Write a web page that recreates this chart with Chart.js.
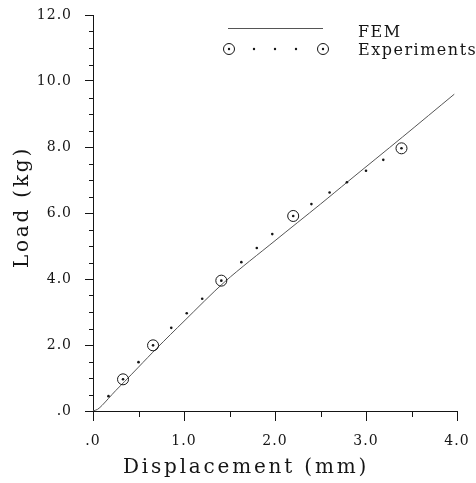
<!DOCTYPE html>
<html>
<head>
<meta charset="utf-8">
<script src="https://cdn.jsdelivr.net/npm/chart.js@4.4.1/dist/chart.umd.min.js"></script>
<style>
html,body{margin:0;padding:0;background:#fff;}
#wrap{width:476px;height:483px;}
</style>
</head>
<body>
<div id="wrap"><canvas id="grafico" width="476" height="483"></canvas></div>
<script>
// ---- DATOS ----
const femX = [0, 0.05, 0.10, 0.17, 0.25, 0.35, 0.50, 0.70, 1.00, 1.45, 2.00, 2.50, 2.80, 3.40, 3.97];
const femY = [0, 0.05, 0.17, 0.38, 0.62, 0.90, 1.33, 1.90, 2.72, 3.92, 5.16, 6.27, 6.95, 8.30, 9.60];

const expX = [0.17, 0.33, 0.50, 0.66, 0.86, 1.03, 1.20, 1.41, 1.63, 1.80, 1.97, 2.20, 2.40, 2.60, 2.79, 3.00, 3.19, 3.39];
const expY = [0.45, 0.96, 1.48, 1.99, 2.52, 2.96, 3.40, 3.95, 4.51, 4.94, 5.36, 5.91, 6.27, 6.62, 6.93, 7.28, 7.61, 7.96];

// puntos marcados con circulo
const circX = [0.33, 0.66, 1.41, 2.20, 3.39];
const circY = [0.96, 1.99, 3.95, 5.91, 7.96];

const xMajor = [0, 1, 2, 3, 4];
const xTickLabels = ['.0', '1.0', '2.0', '3.0', '4.0'];
const yMajor = [0, 2, 4, 6, 8, 10, 12];
const yTickLabels = ['.0', '2.0', '4.0', '6.0', '8.0', '10.0', '12.0'];

const FONT = 'DejaVu Serif';
const INK = '#151515';

function pts(xs, ys){ return xs.map((x,i) => ({ x, y: ys[i] })); }

// ---- plugin: ticks menores, leyenda y titulos de ejes ----
const extras = {
  id: 'extras',
  beforeLayout(chart){ chart.ctx.letterSpacing = '1px'; },
  beforeDraw(chart){ chart.ctx.letterSpacing = '1px'; },
  afterDraw(chart){
    const ctx = chart.ctx;
    const xs = chart.scales.x, ys = chart.scales.y;
    const area = chart.chartArea;
    ctx.save();
    ctx.strokeStyle = INK; ctx.lineWidth = 1;
    // ticks menores
    ctx.beginPath();
    for(let v = 0.5; v < 12; v += 0.5){
      if(yMajor.includes(v)) continue;
      const py = Math.round(ys.getPixelForValue(v)) + 0.5;
      ctx.moveTo(area.left - 4, py); ctx.lineTo(area.left, py);
    }
    for(let v = 0.5; v < 4; v += 1){
      const px = Math.round(xs.getPixelForValue(v)) + 0.5;
      ctx.moveTo(px, area.bottom); ctx.lineTo(px, area.bottom + 6);
    }
    ctx.stroke();

    // leyenda
    ctx.strokeStyle = '#555';
    ctx.beginPath(); ctx.moveTo(228, 28.5); ctx.lineTo(323, 28.5); ctx.stroke();
    ctx.strokeStyle = INK; ctx.fillStyle = INK;
    [229, 323].forEach(cx => {
      ctx.beginPath(); ctx.arc(cx, 49, 5.5, 0, Math.PI*2); ctx.stroke();
      ctx.beginPath(); ctx.arc(cx, 49, 1.2, 0, Math.PI*2); ctx.fill();
    });
    [254, 275, 296].forEach(cx => {
      ctx.beginPath(); ctx.arc(cx, 49, 1.2, 0, Math.PI*2); ctx.fill();
    });
    ctx.font = '16px "' + FONT + '"';
    ctx.letterSpacing = '1.5px';
    ctx.textAlign = 'left'; ctx.textBaseline = 'alphabetic';
    ctx.fillText('FEM', 358, 37);
    ctx.fillText('Experiments', 358, 55);

    // titulos de ejes
    ctx.font = '20px "' + FONT + '"';
    ctx.letterSpacing = '2.8px';
    ctx.textAlign = 'center';
    ctx.fillText('Displacement (mm)', 246, 473);
    ctx.translate(28, 207);
    ctx.rotate(-Math.PI/2);
    ctx.fillText('Load (kg)', 0, 0);
    ctx.restore();
  }
};

const ctxG = document.getElementById('grafico').getContext('2d');
new Chart(ctxG, {
  type: 'scatter',
  data: {
    datasets: [
      { label: 'FEM', data: pts(femX, femY), showLine: true, borderColor: '#555', borderWidth: 1,
        pointRadius: 0, tension: 0.3, fill: false, order: 3 },
      { label: 'Experiments', data: pts(expX, expY), pointRadius: 1.3, pointBackgroundColor: INK,
        pointBorderWidth: 0, showLine: false, order: 2 },
      { label: 'circ', data: pts(circX, circY), pointRadius: 5.5, pointBackgroundColor: 'rgba(0,0,0,0)',
        pointBorderColor: INK, pointBorderWidth: 1, showLine: false, order: 1 }
    ]
  },
  options: {
    responsive: false,
    animation: false,
    layout: { padding: { left: 0, top: 15, right: 19, bottom: 0 } },
    plugins: { legend: { display: false }, tooltip: { enabled: false } },
    scales: {
      x: {
        type: 'linear', min: 0, max: 4,
        afterFit(s){ s.height = 72; s.paddingLeft = 0; s.paddingRight = 0; },
        border: { display: true, color: INK, width: 1 },
        grid: { drawOnChartArea: false, tickLength: 10,
          color: c => (c.tick && xMajor.includes(c.tick.value)) ? INK : 'rgba(0,0,0,0)' },
        ticks: { stepSize: 0.5, padding: 12, color: INK, maxRotation: 0,
          font: { family: FONT, size: 14 },
          callback: v => { const i = xMajor.indexOf(v); return i >= 0 ? xTickLabels[i] : ''; } }
      },
      y: {
        type: 'linear', min: 0, max: 12,
        afterFit(s){ s.width = 93; s.paddingTop = 0; s.paddingBottom = 0; },
        border: { display: true, color: INK, width: 1 },
        grid: { drawOnChartArea: false, tickLength: 8,
          color: c => (c.tick && yMajor.includes(c.tick.value)) ? INK : 'rgba(0,0,0,0)' },
        ticks: { stepSize: 0.5, padding: 13, color: INK, autoSkip: false,
          font: { family: FONT, size: 14 },
          callback: v => { const i = yMajor.indexOf(v); return i >= 0 ? yTickLabels[i] : ''; } }
      }
    }
  },
  plugins: [extras]
});
</script>
</body>
</html>
